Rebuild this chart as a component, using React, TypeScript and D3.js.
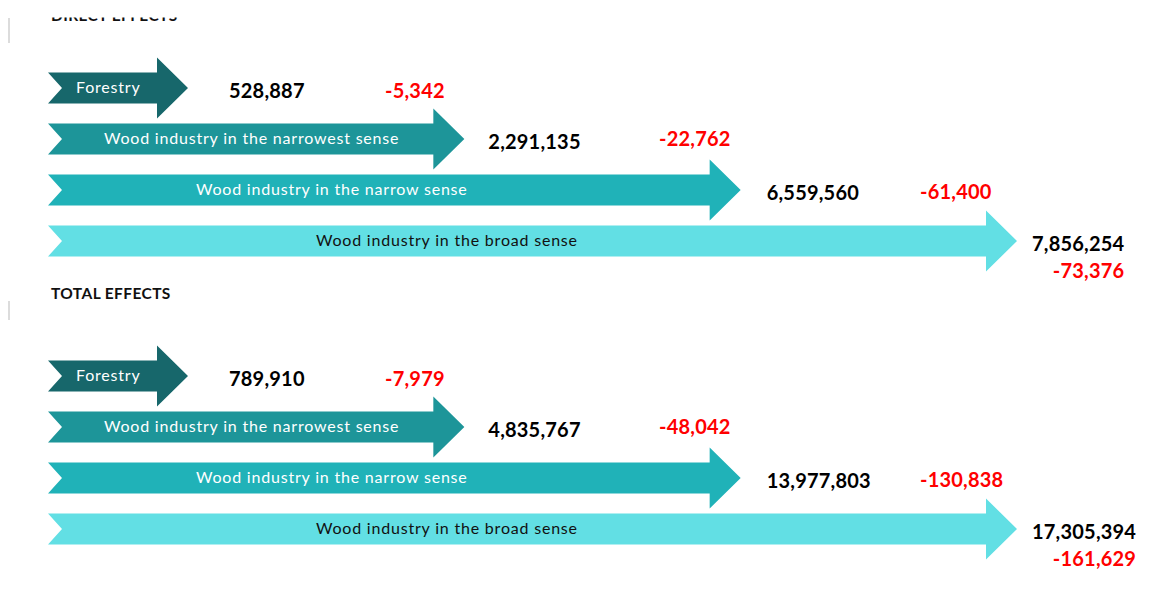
import React, { useEffect, useRef } from "react";
import * as d3 from "d3";

const categories = [
  "Forestry",
  "Wood industry in the narrowest sense",
  "Wood industry in the narrow sense",
  "Wood industry in the broad sense",
];
const directValues = [528887, 2291135, 6559560, 7856254];
const directChanges = [-5342, -22762, -61400, -73376];
const totalValues = [789910, 4835767, 13977803, 17305394];
const totalChanges = [-7979, -48042, -130838, -161629];
const sectionTitles = ["DIRECT EFFECTS", "TOTAL EFFECTS"];

const fills = ["#17676B", "#1D9599", "#20B2B8", "#62DFE4"];
const labelColors = ["#ffffff", "#ffffff", "#ffffff", "#111111"];

const W = 1166;
const H = 603;

export default function App() {
  const ref = useRef<SVGSVGElement>(null);

  useEffect(() => {
    const svg = d3.select(ref.current);
    svg.selectAll("*").remove();
    const f = d3.format(",");
    const fmt = (v: number) => f(v).replace("\u2212", "-");
    const font = "Lato, 'Open Sans', sans-serif";

    const idx = d3.range(categories.length);
    const tipX = d3.scaleLinear().domain([0, categories.length - 1]).range([188, 1017]);
    const rowY = d3.scaleLinear().domain([0, categories.length - 1]).range([0, 153]);
    const leftX = 48;
    const notch = 14;
    const bodyHalf = 15.5;
    const headHalf = 30.5;
    const headLen = 31;
    const labelX = [76, 104, 196, 316];
    const valueDx = [41, 24, 26, 15];
    const changeX = [385, 659, 920];
    const changeDy = [0, -3, -1];

    const defs = svg.append("defs");
    defs
      .append("clipPath")
      .attr("id", "topclip")
      .append("rect")
      .attr("x", 0)
      .attr("y", 17.5)
      .attr("width", W)
      .attr("height", 20);

    const sections = [
      { title: sectionTitles[0], values: directValues, changes: directChanges, top: 88, titleY: 21 },
      { title: sectionTitles[1], values: totalValues, changes: totalChanges, top: 376, titleY: 298.5 },
    ];

    sections.forEach((sec, si) => {
      const g = svg.append("g");
      g.append("rect")
        .attr("x", 8)
        .attr("y", si === 0 ? 18 : 301)
        .attr("width", 2)
        .attr("height", si === 0 ? 25 : 19)
        .attr("fill", "#dcdcdc");

      const t = g
        .append("text")
        .attr("x", 51)
        .attr("y", sec.titleY)
        .attr("font-family", font)
        .attr("font-weight", 700)
        .attr("font-size", 15.5)
        .attr("letter-spacing", 0.4)
        .attr("fill", "#111")
        .text(sec.title);
      if (si === 0) t.attr("clip-path", "url(#topclip)");

      idx.forEach((i) => {
        const cy = sec.top + rowY(i);
        const T = tipX(i);
        const Hs = T - headLen;
        const pts: [number, number][] = [
          [leftX, cy - bodyHalf],
          [Hs, cy - bodyHalf],
          [Hs, cy - headHalf],
          [T, cy],
          [Hs, cy + headHalf],
          [Hs, cy + bodyHalf],
          [leftX, cy + bodyHalf],
          [leftX + notch, cy],
        ];
        g.append("path")
          .attr("d", d3.line()(pts) + "Z")
          .attr("fill", fills[i]);

        g.append("text")
          .attr("x", labelX[i])
          .attr("y", cy + 5)
          .attr("font-family", font)
          .attr("font-size", 16)
          .attr("letter-spacing", 0.8)
          .attr("fill", labelColors[i])
          .text(categories[i]);

        const vx = T + valueDx[i];
        const vt = g
          .append("text")
          .attr("x", vx)
          .attr("y", cy + 9.5)
          .attr("font-family", font)
          .attr("font-weight", 700)
          .attr("font-size", 20)
          .attr("letter-spacing", 0.2)
          .attr("fill", "#000")
          .text(fmt(sec.values[i]));

        if (i < categories.length - 1) {
          g.append("text")
            .attr("x", changeX[i])
            .attr("y", cy + 9.5 + changeDy[i])
            .attr("font-family", font)
            .attr("font-weight", 700)
            .attr("font-size", 20)
            .attr("letter-spacing", 0.2)
            .attr("fill", "#ff0000")
            .text(fmt(sec.changes[i]));
        } else {
          const w = (vt.node() as SVGTextElement).getComputedTextLength();
          g.append("text")
            .attr("x", vx + w)
            .attr("y", cy + 9.5 + 27.5)
            .attr("text-anchor", "end")
            .attr("font-family", font)
            .attr("font-weight", 700)
            .attr("font-size", 20)
            .attr("letter-spacing", 0.2)
            .attr("fill", "#ff0000")
            .text(fmt(sec.changes[i]));
        }
      });
    });
  }, []);

  return (
    <svg
      ref={ref}
      width={W}
      height={H}
      style={{ position: "absolute", left: 0, top: 0, background: "#fff" }}
    />
  );
}
